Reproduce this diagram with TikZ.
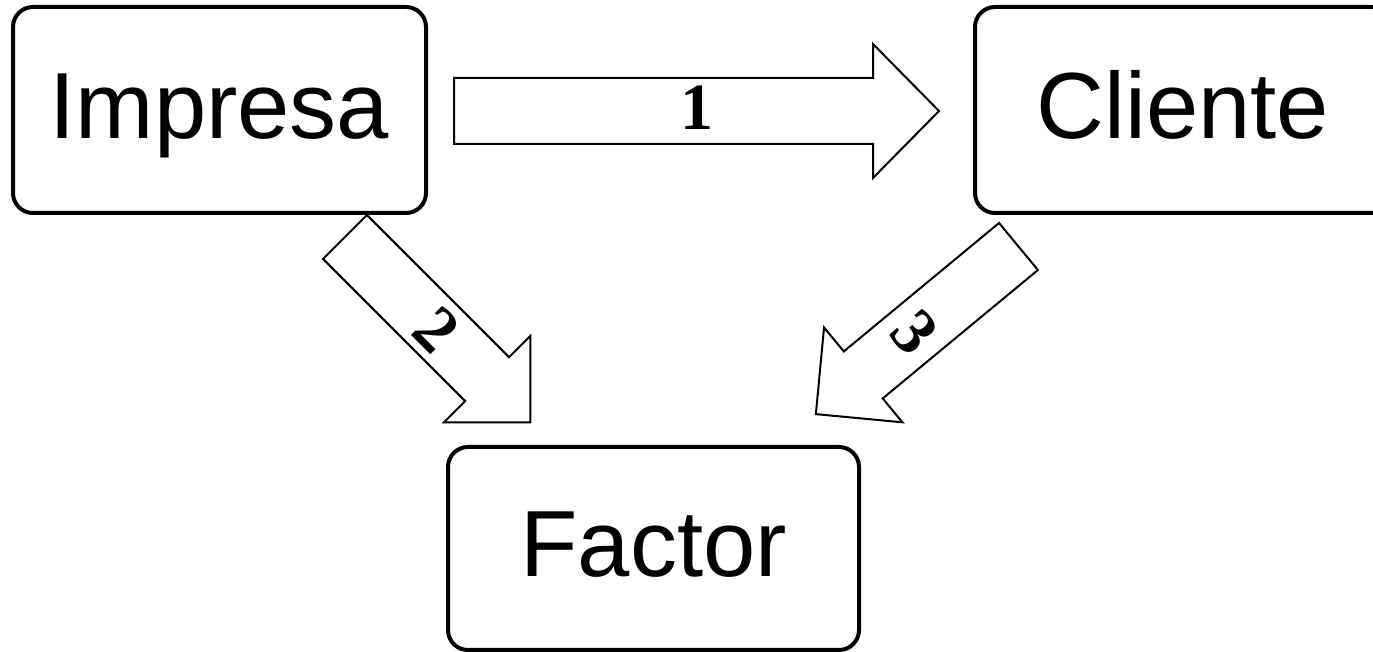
\documentclass[tikz,border=0pt]{standalone}
\usepackage{fontspec}
\setmainfont{Liberation Sans}
\newfontfamily\numfont{Liberation Serif}
\tikzset{
  box/.style={draw, line width=2pt, rounded corners=10pt, inner sep=0pt,
    font=\fontsize{47}{56}\selectfont, text height=37.6pt, text depth=9.4pt},
  blockarrow/.style={draw, line width=1pt, fill=white, line join=miter},
  numlabel/.style={font=\numfont\bfseries\fontsize{33}{40}\selectfont, inner sep=0pt},
}
% #1 tail coordinate, #2 angle, #3 length, #4 half shaft, #5 half head, #6 head length
\newcommand{\blockarr}[6]{%
  \begin{scope}[shift={(#1)}, rotate=#2]
    \draw[blockarrow] (0,-#4) -- ({#3-#6},-#4) -- ({#3-#6},-#5) -- (#3,0)
      -- ({#3-#6},#5) -- ({#3-#6},#4) -- (0,#4) -- cycle;
  \end{scope}}
\begin{document}
\begin{tikzpicture}[x=0.5pt, y=-0.5pt]
  \useasboundingbox (0,0) rectangle (1373,652);
  \clip (0,0) rectangle (1373,652);
  % boxes
  \node[box, minimum width=206.5pt, minimum height=103pt] (impresa) at (219.5,110) {Impresa};
  \node[box, minimum width=208pt, minimum height=103pt] (cliente) at (1183,110) {Cliente};
  \node[box, minimum width=205.5pt, minimum height=101.5pt] (factor) at (653.5,548.5) {Factor};
  % arrow tails
  \coordinate (t1) at (454,111);
  \coordinate (t2) at (345,237);
  \coordinate (t3) at (1018.5,246.5);
  \blockarr{t1}{0}{485}{33}{67}{66}
  \blockarr{t2}{-45}{262}{31}{61}{61}
  \blockarr{t3}{-140.4}{263}{30.5}{61.5}{61.5}
  % labels
  \node[numlabel] (l1) at (697,108) {1};
  \node[numlabel, rotate=-45] (l2) at (437,330) {2};
  \node[numlabel, rotate=-50] (l3) at (914.5,332) {3};
\end{tikzpicture}
\end{document}
